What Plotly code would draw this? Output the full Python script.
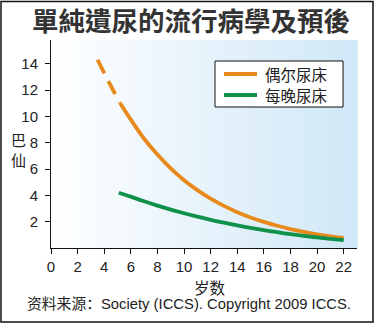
import plotly.graph_objects as go

# Ages (years) and prevalence (%) of enuresis
age_occ_dash = [3.5, 4.3, 5.2]
occ_dash = [14.3, 12.7, 11.0]

age_occ = [5.2, 6, 7, 8, 9, 10, 11, 12, 13, 14, 15, 16, 17, 18, 19, 20, 21, 22]
occasional = [11.0, 9.75, 8.3, 7.1, 6.05, 5.15, 4.4, 3.75, 3.2, 2.72, 2.32, 1.98,
              1.69, 1.44, 1.22, 1.04, 0.89, 0.76]

age_night = [5.1, 6, 7, 8, 9, 10, 11, 12, 13, 14, 15, 16, 17, 18, 19, 20, 21, 22]
nightly = [4.2, 3.9, 3.55, 3.22, 2.92, 2.64, 2.38, 2.14, 1.92, 1.72, 1.53, 1.36,
           1.2, 1.05, 0.92, 0.8, 0.69, 0.59]

series_names = ["偶尔尿床", "每晚尿床"]
x_ticks = list(range(0, 23, 2))
y_ticks = list(range(2, 15, 2))

ORANGE = "#E8891C"
GREEN = "#10914A"
LATIN = "Liberation Sans, Arial, Noto Sans CJK SC"
CJK = "Noto Sans CJK SC"

W, H = 375, 324
L, R, T, B = 51, 18, 40, 76
PW, PH = W - L - R, H - T - B


def px_x(px):
    return (px - L) / PW


def px_y(py):
    return (H - B - py) / PH


fig = go.Figure()
fig.add_trace(go.Scatter(x=age_occ_dash, y=occ_dash, mode="lines",
                         line=dict(color=ORANGE, width=3.8, dash="15px,9px",
                                   shape="spline"),
                         showlegend=False, hoverinfo="skip"))
fig.add_trace(go.Scatter(x=age_occ, y=occasional, mode="lines", name=series_names[0],
                         line=dict(color=ORANGE, width=3.8, shape="spline", smoothing=1),
                         showlegend=False))
fig.add_trace(go.Scatter(x=age_night, y=nightly, mode="lines", name=series_names[1],
                         line=dict(color=GREEN, width=3.8, shape="spline", smoothing=1),
                         showlegend=False))

# soft left-to-right blue wash behind the plot area
shapes = []
N = 90
c0 = (255, 255, 255)
c1 = (207, 231, 247)
for i in range(N):
    t = (i + 0.5) / N
    col = tuple(round(a + (b - a) * t) for a, b in zip(c0, c1))
    shapes.append(dict(type="rect", xref="paper", yref="paper",
                       x0=i / N, x1=(i + 1) / N + 0.002, y0=0, y1=1,
                       fillcolor="rgb(%d,%d,%d)" % col, line=dict(width=0),
                       layer="below"))
# outer frame
shapes.append(dict(type="rect", xref="paper", yref="paper",
                   x0=px_x(1), x1=px_x(373), y0=px_y(322), y1=px_y(1.5),
                   line=dict(color="#111", width=1.5), fillcolor="rgba(0,0,0,0)"))

# legend box with line keys
shapes.append(dict(type="rect", xref="paper", yref="paper",
                   x0=px_x(215), x1=px_x(343), y0=px_y(107), y1=px_y(61),
                   line=dict(color="#111", width=1), fillcolor="white"))
annotations = []
for name, color, ly in zip(series_names, [ORANGE, GREEN], [74, 95]):
    shapes.append(dict(type="line", xref="paper", yref="paper",
                       x0=px_x(224), x1=px_x(257), y0=px_y(ly), y1=px_y(ly),
                       line=dict(color=color, width=3.8)))
    annotations.append(dict(text=name, xref="paper", yref="paper",
                            x=px_x(263), y=px_y(ly), xanchor="left", yanchor="middle",
                            showarrow=False, font=dict(family=CJK, size=15.5, color="#222")))

annotations += [
    dict(text="<b>單純遺尿的流行病學及預後</b>", xref="paper", yref="paper",
         x=px_x(191), y=px_y(20), xanchor="center", yanchor="middle",
         showarrow=False, font=dict(family="Noto Sans CJK TC", size=26.5, color="#333")),
    dict(text="巴<br>仙", xref="paper", yref="paper", x=px_x(18), y=px_y(149),
         xanchor="center", yanchor="middle", showarrow=False,
         font=dict(family=CJK, size=15, color="#222")),
    dict(text="岁数", xref="paper", yref="paper", x=px_x(210), y=px_y(287),
         xanchor="center", yanchor="middle", showarrow=False,
         font=dict(family=CJK, size=15.5, color="#222")),
    dict(text="资料来源：Society (ICCS). Copyright 2009 ICCS.", xref="paper", yref="paper",
         x=px_x(189), y=px_y(304), xanchor="center", yanchor="middle", showarrow=False,
         font=dict(family=LATIN, size=14.8, color="#222")),
]

fig.update_layout(
    width=W, height=H,
    margin=dict(l=L, r=R, t=T, b=B, pad=0),
    paper_bgcolor="white", plot_bgcolor="white",
    shapes=shapes, annotations=annotations, showlegend=False,
    xaxis=dict(range=[0, 23], tickvals=x_ticks, ticks="outside", ticklen=5,
               tickcolor="#111", showline=True, linecolor="#111", linewidth=1,
               showgrid=False, zeroline=False, fixedrange=True,
               tickfont=dict(family=LATIN, size=15, color="#222")),
    yaxis=dict(range=[0, 15.8], tickvals=y_ticks, ticks="outside", ticklen=5,
               tickcolor="#111", showline=True, linecolor="#111", linewidth=1,
               showgrid=False, zeroline=False, fixedrange=True, ticklabelstandoff=4,
               tickfont=dict(family=LATIN, size=15, color="#222")),
)

fig.write_html("out.html", config={"displayModeBar": False})
